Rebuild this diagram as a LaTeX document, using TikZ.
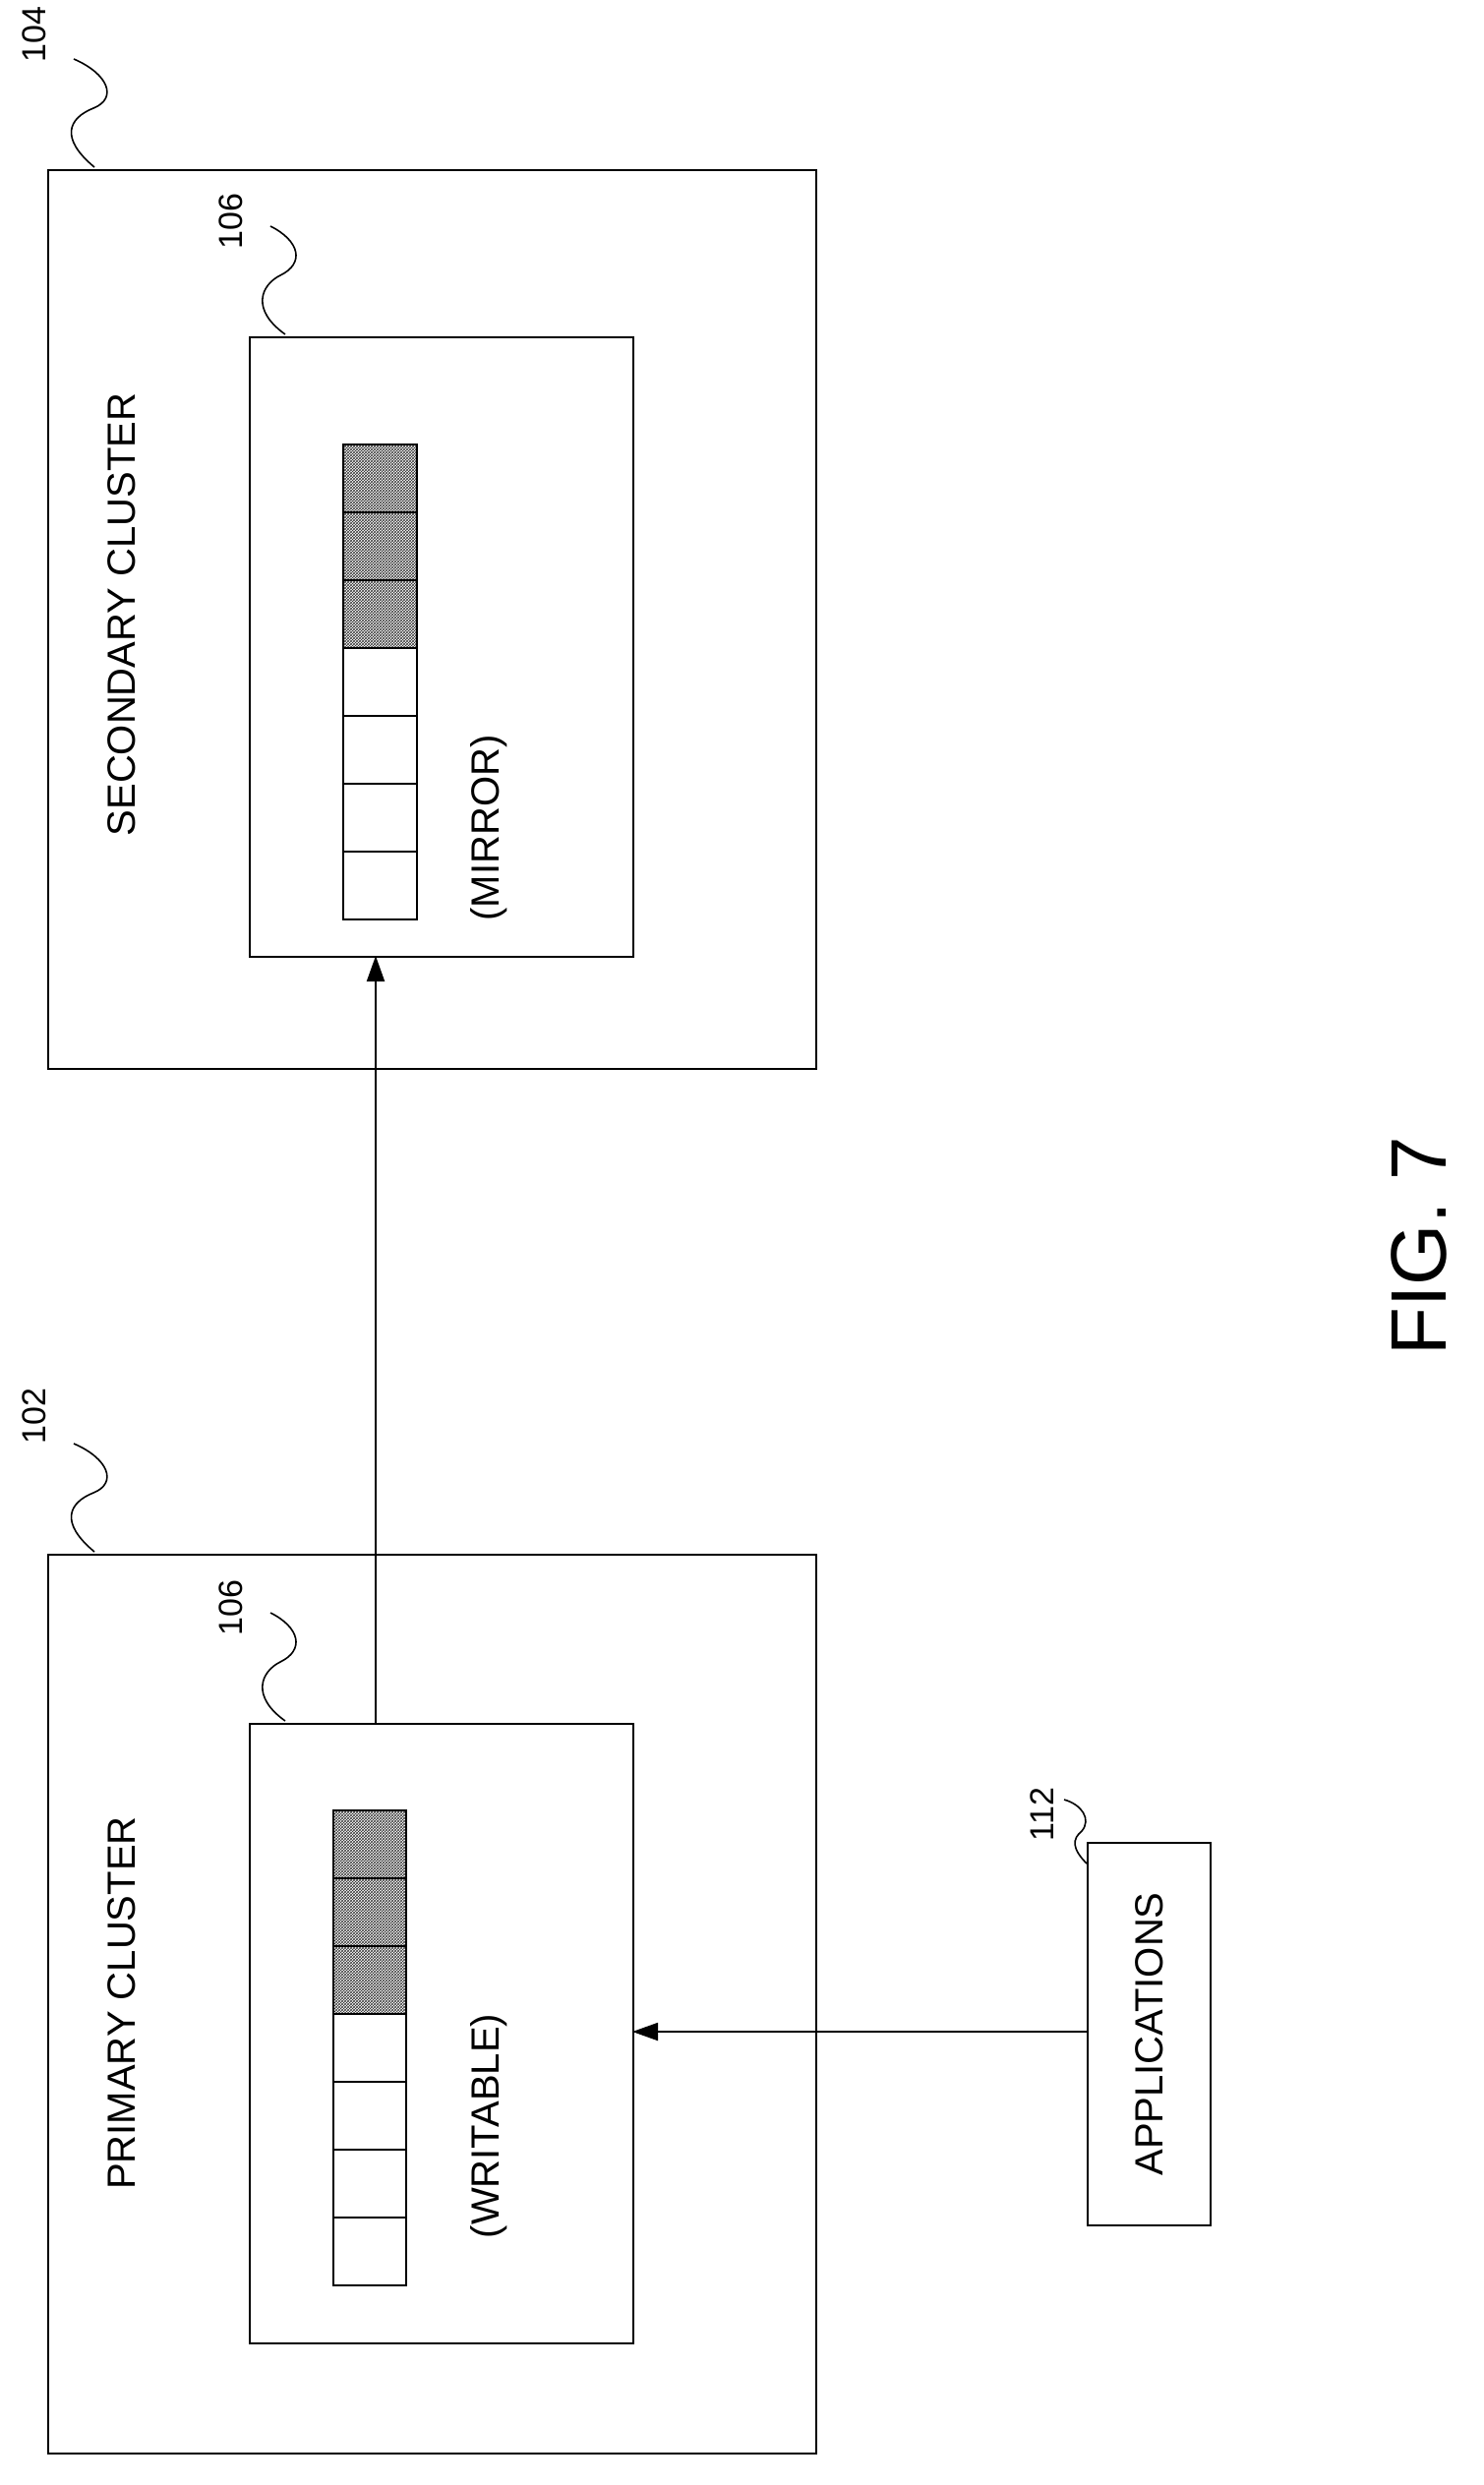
\documentclass[tikz,border=0pt]{standalone}
\usepackage{fontspec}
\setmainfont{Liberation Sans}
\usetikzlibrary{patterns,arrows.meta}
\begin{document}
\begin{tikzpicture}[x=1pt,y=-1pt,
  box/.style={draw,line width=2pt},
  cell/.style={draw,line width=2pt},
  hcell/.style={draw,line width=2pt,pattern=crosshatch,pattern color=black!80},
  lbl/.style={rotate=90,font=\fontsize{40}{40}\selectfont},
  num/.style={rotate=90,font=\fontsize{34}{34}\selectfont},
  arr/.style={line width=2pt,-{Triangle[length=26pt,width=18pt]}},
  sq/.style={line width=1.6pt}]
\useasboundingbox (0,0) rectangle (1508,2527);
% secondary
\node[box,minimum width=781pt,minimum height=914pt,anchor=north west,inner sep=0] (sec) at (48,172) {};
\node[box,minimum width=390pt,minimum height=630pt,anchor=north west,inner sep=0] (smir) at (253,342) {};
\foreach \i in {0,...,6}{
  \ifnum\i<3 \def\st{hcell}\else\def\st{cell}\fi
  \node[\st,minimum width=75pt,minimum height=69pt,anchor=north west,inner sep=0] (s\i) at (348,451+69*\i) {};}
\node[lbl] (sect) at (124,625) {SECONDARY CLUSTER};
\node[lbl] (mirt) at (497,842) {(MIRROR)};
% primary
\node[box,minimum width=781pt,minimum height=914pt,anchor=north west,inner sep=0] (pri) at (48,1580) {};
\node[box,minimum width=390pt,minimum height=630pt,anchor=north west,inner sep=0] (pwr) at (253,1752) {};
\foreach \i in {0,...,6}{
  \ifnum\i<3 \def\st{hcell}\else\def\st{cell}\fi
  \node[\st,minimum width=74pt,minimum height=69pt,anchor=north west,inner sep=0] (p\i) at (338,1840+69*\i) {};}
\node[lbl] (prit) at (124,2037) {PRIMARY CLUSTER};
\node[lbl] (wrt) at (497,2162) {(WRITABLE)};
% applications
\node[box,minimum width=125pt,minimum height=389pt,anchor=north west,inner sep=0] (app) at (1105,1873) {};
\node[lbl] (appt) at (app.center) {APPLICATIONS};
% arrows
\coordinate (pt) at (382,1752);
\coordinate (st) at (382,972);
\draw[arr] (pt) -- (st);
\coordinate (aw) at (1105,2066);
\coordinate (pe) at (643,2066);
\draw[arr] (aw) -- (pe);
% reference numerals
\node[num] (n104) at (35,35) {104};
\draw[sq] (96,170) .. controls (60,140) and (70,120) .. (95,110) .. controls (120,100) and (110,75) .. (75,60);
\node[num] (n106a) at (235,225) {106};
\draw[sq] (290,340) .. controls (255,315) and (265,290) .. (285,280) .. controls (310,268) and (305,245) .. (275,230);
\node[num] (n102) at (35,1440) {102};
\draw[sq] (96,1578) .. controls (60,1548) and (70,1528) .. (95,1518) .. controls (120,1508) and (110,1483) .. (75,1468);
\node[num] (n106b) at (235,1635) {106};
\draw[sq] (290,1750) .. controls (255,1725) and (265,1700) .. (285,1690) .. controls (310,1678) and (305,1655) .. (275,1640);
\node[num] (n112) at (1060,1845) {112};
\draw[sq] (1105,1895) .. controls (1090,1880) and (1090,1870) .. (1100,1862) .. controls (1110,1850) and (1100,1835) .. (1082,1830);
\node[rotate=90,font=\fontsize{80}{80}\selectfont] (fig) at (1443,1267) {FIG. 7};
\end{tikzpicture}
\end{document}
